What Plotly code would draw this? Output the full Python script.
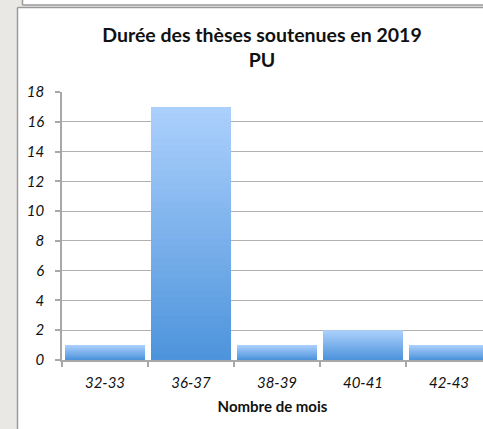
import plotly.graph_objects as go

categories = ["32-33", "36-37", "38-39", "40-41", "42-43"]
values = [1, 17, 1, 2, 1]
y_ticks = [0, 2, 4, 6, 8, 10, 12, 14, 16, 18]

title_text = "Durée des thèses soutenues en 2019<br>PU"
x_title = "Nombre de mois"

FONT = "Lato, 'Open Sans', sans-serif"
W, H = 483, 429
ML, MR, MT, MB = 62, 0, 92, 69
PW, PH = W - ML - MR, H - MT - MB

light = (171, 208, 252)
dark = (78, 148, 220)
N = 40

fig = go.Figure()
for k in range(N, 0, -1):
    f = (k - 1) / (N - 1)
    c = tuple(round(dark[i] + (light[i] - dark[i]) * f) for i in range(3))
    fig.add_trace(go.Bar(
        x=categories,
        y=[v * k / N for v in values],
        marker=dict(color="rgb(%d,%d,%d)" % c, line=dict(width=0)),
        showlegend=False,
        hoverinfo="skip" if k != N else None,
    ))

def px_x(p):
    return (p - ML) / PW

def px_y(p):
    return (H - MB - p) / PH

border = dict(color="#9a9a9a", width=1.5)
shapes = [
    # main white chart box
    dict(type="rect", xref="paper", yref="paper",
         x0=px_x(17.5), x1=px_x(490), y0=px_y(7.5), y1=px_y(440),
         fillcolor="white", line=dict(width=0), layer="below"),
    dict(type="line", xref="paper", yref="paper",
         x0=px_x(17.5), x1=px_x(17.5), y0=px_y(7.5), y1=px_y(440), line=border, layer="below"),
    dict(type="line", xref="paper", yref="paper",
         x0=px_x(17.5), x1=px_x(490), y0=px_y(7.5), y1=px_y(7.5), line=border, layer="below"),
    # top box edge
    dict(type="rect", xref="paper", yref="paper",
         x0=px_x(22.5), x1=px_x(490), y0=px_y(-5), y1=px_y(5),
         fillcolor="white", line=dict(width=0), layer="below"),
    dict(type="line", xref="paper", yref="paper",
         x0=px_x(22.5), x1=px_x(22.5), y0=px_y(-5), y1=px_y(5), line=border, layer="below"),
    dict(type="line", xref="paper", yref="paper",
         x0=px_x(22.5), x1=px_x(490), y0=px_y(5), y1=px_y(5), line=border, layer="below"),
]

fig.update_layout(
    width=W, height=H,
    margin=dict(l=ML, r=MR, t=MT, b=MB, pad=0),
    paper_bgcolor="#eae8e4",
    plot_bgcolor="rgba(0,0,0,0)",
    barmode="overlay",
    bargap=0.07,
    shapes=shapes,
    title=dict(text="<b>" + title_text.replace("<br>", "</b><br><b>") + "</b>",
               x=262 / W, xanchor="center", y=1 - 42 / H, yanchor="middle",
               font=dict(family=FONT, size=19.5, color="#111")),
    font=dict(family=FONT, color="#111"),
    xaxis=dict(
        range=[-0.5, -0.5 + PW / 86.0],
        showgrid=False,
        showline=True, linecolor="#a8a8a8", linewidth=1.5,
        ticks="outside", tickson="boundaries", ticklen=5, tickcolor="#a8a8a8", tickwidth=1.5,
        ticklabelstandoff=8,
        tickfont=dict(family=FONT, size=15, style="italic", color="#111"),
        title=dict(text="<b>" + x_title + "</b>", font=dict(family=FONT, size=15, color="#111"), standoff=12),
        fixedrange=True,
    ),
    yaxis=dict(
        range=[0, 18],
        tickvals=y_ticks,
        showgrid=True, gridcolor="#b0b0b0", gridwidth=1,
        showline=True, linecolor="#a8a8a8", linewidth=1.5,
        ticks="outside", ticklen=5, tickcolor="#a8a8a8", tickwidth=1.5,
        ticklabelstandoff=8,
        tickfont=dict(family=FONT, size=15, style="italic", color="#111"),
        zeroline=False,
        fixedrange=True,
    ),
)

fig.write_html(
    "out.html",
    config={"displayModeBar": False},
    post_script="document.body.style.margin='0';document.body.style.overflow='hidden';",
)
